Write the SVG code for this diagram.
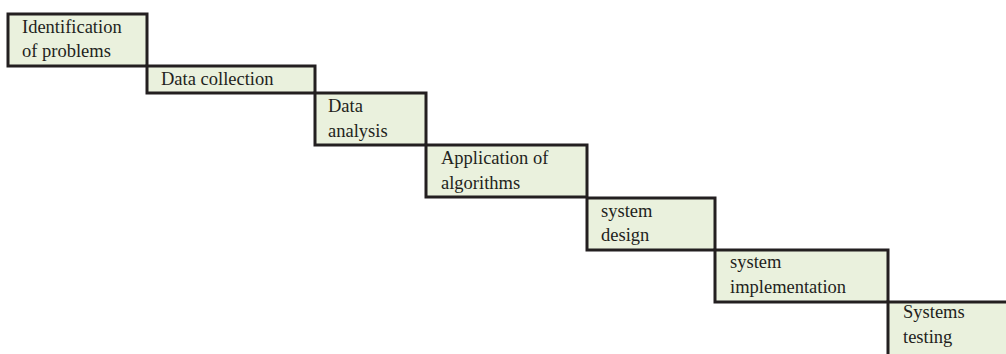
<svg xmlns="http://www.w3.org/2000/svg" width="1006" height="354" viewBox="0 0 1006 354">
<style>
.box{fill:#eaf1dd;stroke:#231f20;stroke-width:3}
.t{font-family:"Liberation Serif","Times New Roman",serif;font-size:18.5px;fill:#231f20}
</style>
<rect width="1006" height="354" fill="#ffffff"/>
<g id="connectors"></g>
<g id="n1"><rect class="box" x="8" y="14" width="139" height="52"/><text class="t" x="22" y="33">Identification</text><text class="t" x="22" y="57">of problems</text></g>
<g id="n2"><rect class="box" x="147" y="66" width="168" height="27"/><text class="t" x="161" y="85">Data collection</text></g>
<g id="n3"><rect class="box" x="315" y="93" width="111" height="52"/><text class="t" x="328" y="112">Data</text><text class="t" x="328" y="137">analysis</text></g>
<g id="n4"><rect class="box" x="426" y="145" width="161" height="52"/><text class="t" x="441" y="164">Application of</text><text class="t" x="441" y="189">algorithms</text></g>
<g id="n5"><rect class="box" x="587" y="198" width="128" height="52"/><text class="t" x="601" y="217">system</text><text class="t" x="601" y="241">design</text></g>
<g id="n6"><rect class="box" x="715" y="250" width="173" height="52"/><text class="t" x="730" y="268">system</text><text class="t" x="730" y="293">implementation</text></g>
<g id="n7"><rect class="box" x="888" y="302" width="130" height="62"/><text class="t" x="903" y="318">Systems</text><text class="t" x="903" y="343">testing</text></g>
</svg>
